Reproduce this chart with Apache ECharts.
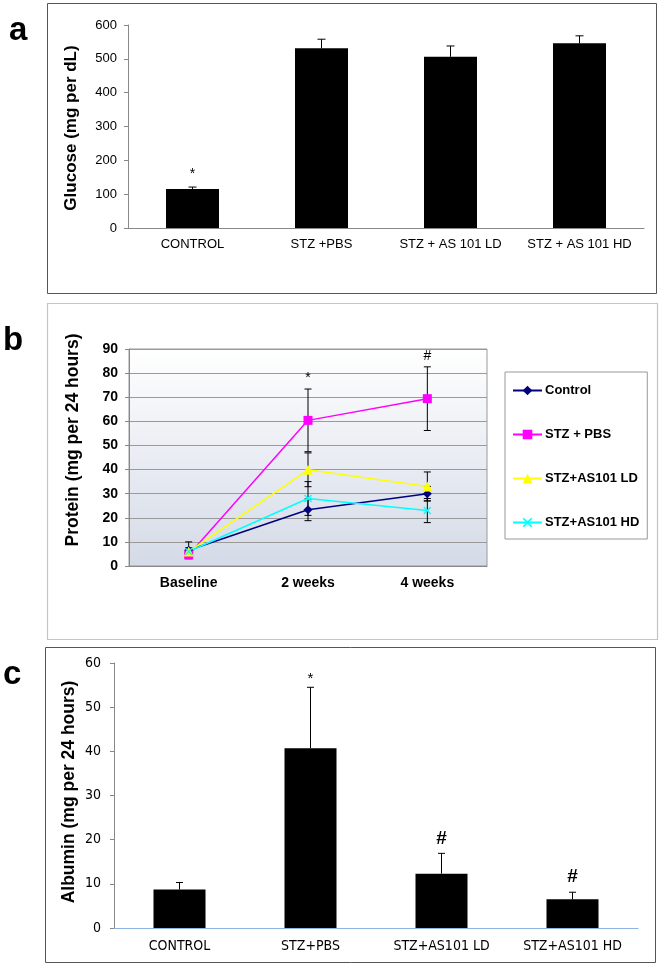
<!DOCTYPE html>
<html>
<head>
<meta charset="utf-8">
<script src="https://cdn.jsdelivr.net/npm/echarts@6/dist/echarts.min.js"></script>
<style>
html,body{margin:0;padding:0;background:#fff;}
#chart{width:662px;height:968px;}
</style>
</head>
<body>
<div id="chart"></div>
<script>
// ---------- Panel a: glucose ----------
const catsA = ['CONTROL', 'STZ +PBS', 'STZ + AS 101 LD', 'STZ + AS 101 HD'];
const glucose = [115, 531, 506, 546];
const glucoseErr = [6, 27, 32, 22];
const glucoseSig = ['*', '', '', ''];
const ticksA = [0, 600, 100];

// ---------- Panel b: protein ----------
const catsB = ['Baseline', '2 weeks', '4 weeks'];
const namesB = ['Control', 'STZ + PBS', 'STZ+AS101 LD', 'STZ+AS101 HD'];
const protControl = [6.5, 23.3, 30.0];
const protControlErr = [3.5, 4.5, 3.0];
const protPBS = [4.6, 60.4, 69.4];
const protPBSErr = [1.5, 13.0, 13.2];
const protLD = [6.0, 39.9, 33.0];
const protLDErr = [1.5, 7.0, 6.0];
const protHD = [6.0, 28.0, 23.0];
const protHDErr = [1.5, 7.0, 5.0];
const protSig = ['', '*', '#'];   // marks above STZ + PBS
const ticksB = [0, 90, 10];

// ---------- Panel c: albumin ----------
const catsC = ['CONTROL', 'STZ+PBS', 'STZ+AS101 LD', 'STZ+AS101 HD'];
const albumin = [8.7, 40.7, 12.3, 6.5];
const albuminErr = [1.6, 13.8, 4.6, 1.6];
const albuminSig = ['', '*', '#', '#'];
const ticksC = [0, 60, 10];

const ARIAL = 'Liberation Sans, Arial, sans-serif';
const NARROW = 'DejaVu Sans Condensed, Liberation Sans Narrow, sans-serif';

function upErr(vals, errs, sigs, capHalf, fontFor) {
  return function (params, api) {
    const i = params.dataIndex;
    const b = api.coord([i, vals[i]]);
    const t = api.coord([i, vals[i] + errs[i]]);
    const ch = [
      {type: 'line', shape: {x1: b[0], y1: b[1], x2: t[0], y2: t[1]}, style: {stroke: '#000', lineWidth: 1}},
      {type: 'line', shape: {x1: t[0] - capHalf, y1: t[1], x2: t[0] + capHalf, y2: t[1]}, style: {stroke: '#000', lineWidth: 1}}
    ];
    if (sigs[i]) {
      const f = fontFor(sigs[i]);
      ch.push({type: 'text', style: {text: sigs[i], x: t[0], y: t[1] - f.gap, align: 'center', verticalAlign: 'middle', font: f.font, fill: '#000'}});
    }
    return {type: 'group', children: ch};
  };
}
function bothErr(vals, errs, sigs, capHalf, font, sigGap) {
  return function (params, api) {
    const i = params.dataIndex;
    const t = api.coord([i, vals[i] + errs[i]]);
    const b = api.coord([i, vals[i] - errs[i]]);
    const ch = [
      {type: 'line', shape: {x1: b[0], y1: b[1], x2: t[0], y2: t[1]}, style: {stroke: '#000', lineWidth: 1}},
      {type: 'line', shape: {x1: t[0] - capHalf, y1: t[1], x2: t[0] + capHalf, y2: t[1]}, style: {stroke: '#000', lineWidth: 1}},
      {type: 'line', shape: {x1: b[0] - capHalf, y1: b[1], x2: b[0] + capHalf, y2: b[1]}, style: {stroke: '#000', lineWidth: 1}}
    ];
    if (sigs && sigs[i]) {
      ch.push({type: 'text', style: {text: sigs[i], x: t[0], y: t[1] - sigGap, align: 'center', verticalAlign: 'middle', font: font, fill: '#000'}});
    }
    return {type: 'group', children: ch};
  };
}
function idx(arr) { return arr.map((v, i) => [i, v]); }

const chart = echarts.init(document.getElementById('chart'), null, {renderer: 'canvas'});

const xMark = 'path://M0,1.2L1.2,0L5,3.8L8.8,0L10,1.2L6.2,5L10,8.8L8.8,10L5,6.2L1.2,10L0,8.8L3.8,5Z';

const lineDefs = [
  {name: namesB[0], data: protControl, err: protControlErr, color: '#000080', symbol: 'diamond', size: 9, sig: null},
  {name: namesB[1], data: protPBS, err: protPBSErr, color: '#FF00FF', symbol: 'rect', size: 9, sig: protSig},
  {name: namesB[2], data: protLD, err: protLDErr, color: '#FFFF00', symbol: 'triangle', size: 10, sig: null},
  {name: namesB[3], data: protHD, err: protHDErr, color: '#00FFFF', symbol: xMark, size: 8, sig: null}
];

const fontA = s => ({font: '14px ' + ARIAL, gap: 13});
const fontC = s => (s === '#' ? {font: 'bold 19px ' + ARIAL, gap: 15} : {font: '15px ' + ARIAL, gap: 8});

const series = [];
// panel a
series.push({type: 'bar', xAxisIndex: 0, yAxisIndex: 0, data: glucose, barWidth: 53, itemStyle: {color: '#000'}, silent: true});
series.push({type: 'custom', xAxisIndex: 0, yAxisIndex: 0, data: idx(glucose), renderItem: upErr(glucose, glucoseErr, glucoseSig, 4, fontA), z: 5, silent: true});
// panel b
lineDefs.forEach(d => {
  series.push({type: 'custom', xAxisIndex: 1, yAxisIndex: 1, data: idx(d.data), renderItem: bothErr(d.data, d.err, d.sig, 3.5, '14px ' + ARIAL, 11), z: 1, silent: true});
});
lineDefs.forEach(d => {
  series.push({type: 'line', name: d.name, xAxisIndex: 1, yAxisIndex: 1, data: d.data, symbol: d.symbol, symbolSize: d.size,
    lineStyle: {color: d.color, width: 1.5}, itemStyle: {color: d.color}, z: 3, silent: true, animation: false});
});
// panel c
series.push({type: 'bar', xAxisIndex: 2, yAxisIndex: 2, data: albumin, barWidth: 52, itemStyle: {color: '#000'}, silent: true});
series.push({type: 'custom', xAxisIndex: 2, yAxisIndex: 2, data: idx(albumin), renderItem: upErr(albumin, albuminErr, albuminSig, 3.5, fontC), z: 5, silent: true});

const option = {
  animation: false,
  backgroundColor: '#fff',
  grid: [
    {left: 128, right: 18, top: 25, bottom: 740},
    {left: 129, right: 175, top: 349, bottom: 402, show: true, borderColor: '#999', borderWidth: 1,
      backgroundColor: {type: 'linear', x: 0, y: 0, x2: 0, y2: 1, colorStops: [{offset: 0, color: '#ffffff'}, {offset: 1, color: '#d4dae7'}]}},
    {left: 114, right: 24, top: 663, bottom: 40}
  ],
  xAxis: [
    {gridIndex: 0, type: 'category', data: catsA,
      axisLine: {lineStyle: {color: '#888', width: 1}}, axisTick: {length: 4, lineStyle: {color: '#888'}},
      axisLabel: {interval: 0, color: '#000', fontFamily: ARIAL, fontSize: 13, margin: 10}},
    {gridIndex: 1, type: 'category', data: catsB,
      axisLine: {lineStyle: {color: '#888', width: 1}}, axisTick: {length: 4, lineStyle: {color: '#888'}},
      axisLabel: {interval: 0, color: '#000', fontFamily: ARIAL, fontSize: 14, fontWeight: 'bold', margin: 10}},
    {gridIndex: 2, type: 'category', data: catsC,
      axisLine: {lineStyle: {color: '#8db3e2', width: 1.2}}, axisTick: {length: 5, lineStyle: {color: '#8db3e2'}},
      axisLabel: {interval: 0, color: '#000', fontFamily: NARROW, fontSize: 14, margin: 11}}
  ],
  yAxis: [
    {gridIndex: 0, type: 'value', min: ticksA[0], max: ticksA[1], interval: ticksA[2],
      axisLine: {show: true, lineStyle: {color: '#888'}}, axisTick: {show: true, length: 4, lineStyle: {color: '#888'}},
      splitLine: {show: false}, axisLabel: {color: '#000', fontFamily: ARIAL, fontSize: 13, margin: 11}},
    {gridIndex: 1, type: 'value', min: ticksB[0], max: ticksB[1], interval: ticksB[2],
      axisLine: {show: true, lineStyle: {color: '#888'}}, axisTick: {show: true, length: 4, lineStyle: {color: '#888'}},
      splitLine: {show: true, lineStyle: {color: '#9a9a9a', width: 1}},
      axisLabel: {color: '#000', fontFamily: ARIAL, fontSize: 14, fontWeight: 'bold', margin: 11}},
    {gridIndex: 2, type: 'value', min: ticksC[0], max: ticksC[1], interval: ticksC[2],
      axisLine: {show: true, lineStyle: {color: '#888'}}, axisTick: {show: true, length: 4, lineStyle: {color: '#888'}},
      splitLine: {show: false}, axisLabel: {color: '#000', fontFamily: NARROW, fontSize: 14, margin: 13}}
  ],
  legend: {
    orient: 'vertical', left: 505, top: 372,
    data: namesB,
    itemWidth: 29, itemHeight: 12, itemGap: 31,
    padding: [12, 8, 10, 7],
    borderColor: '#999', borderWidth: 1, backgroundColor: '#fff',
    textStyle: {fontFamily: ARIAL, fontSize: 13, fontWeight: 'bold', color: '#000', padding: [0, 0, 0, -2]},
    selectedMode: false
  },
  graphic: [
    {type: 'rect', shape: {x: 47.5, y: 3.5, width: 609, height: 290}, style: {fill: 'none', stroke: '#555', lineWidth: 1}, z: -1, silent: true},
    {type: 'rect', shape: {x: 47.5, y: 303.5, width: 610, height: 336}, style: {fill: 'none', stroke: '#c4c4c4', lineWidth: 1.2}, z: -1, silent: true},
    {type: 'rect', shape: {x: 45.5, y: 647.5, width: 610, height: 315}, style: {fill: 'none', stroke: '#555', lineWidth: 1}, z: -1, silent: true},
    {type: 'text', left: 9, top: 14, style: {text: 'a', font: 'bold 33px ' + ARIAL, fill: '#000'}},
    {type: 'text', left: 3, top: 324, style: {text: 'b', font: 'bold 33px ' + ARIAL, fill: '#000'}},
    {type: 'text', left: 3, top: 658, style: {text: 'c', font: 'bold 33px ' + ARIAL, fill: '#000'}},
    {type: 'text', x: 71, y: 128, rotation: Math.PI / 2, style: {text: 'Glucose (mg per dL)', font: 'bold 17px ' + ARIAL, fill: '#000', align: 'center', verticalAlign: 'middle'}},
    {type: 'text', x: 73, y: 440, rotation: Math.PI / 2, style: {text: 'Protein (mg per 24 hours)', font: 'bold 17.5px ' + ARIAL, fill: '#000', align: 'center', verticalAlign: 'middle'}},
    {type: 'text', x: 69, y: 792, rotation: Math.PI / 2, style: {text: 'Albumin (mg per 24 hours)', font: 'bold 17.5px ' + ARIAL, fill: '#000', align: 'center', verticalAlign: 'middle'}}
  ],
  series: series
};
chart.setOption(option);
</script>
</body>
</html>
